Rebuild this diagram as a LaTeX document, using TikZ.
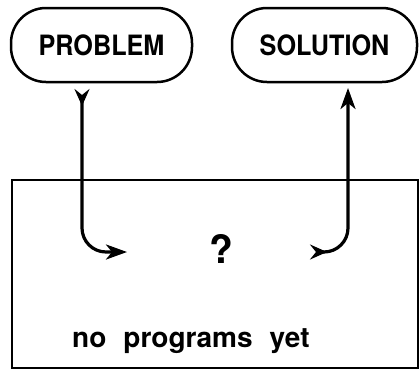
\documentclass[tikz,border=0pt]{standalone}
\usepackage{fontspec}
\setmainfont{TeX Gyre Heros}
\usetikzlibrary{arrows.meta}
\newcommand{\capword}[1]{\scalebox{0.9}[1]{#1}}
\begin{document}
\begin{tikzpicture}[x=1pt,y=-1pt,
  capsule/.style={draw,line width=2.5pt,rounded corners=35pt,
    minimum height=74pt,inner sep=0pt,font=\bfseries\fontsize{28}{32}\selectfont},
  frame/.style={draw,line width=2.3pt},
  flow/.style={line width=3.2pt,rounded corners=24pt},
  tipboth/.style={{Stealth[length=17pt,width=15pt,inset=6pt,reversed]}-{Stealth[length=21pt,width=15pt,inset=6pt]}},
  label/.style={font=\bfseries\fontsize{28}{32}\selectfont,inner sep=0pt}]
\useasboundingbox (0,0) rectangle (419,370);
% the two goals above the machine
\node[capsule,minimum width=181pt] (prob) at (101.5,45) {\capword{PROBLEM}};
\node[capsule,minimum width=185pt] (sol) at (324.5,45) {\capword{SOLUTION}};
% the machine, still empty
\draw[frame] (12,180) rectangle (418,368);
\node[label,font=\bfseries\fontsize{39}{42}\selectfont] (q) at (221,249) {?};
\node[label,anchor=base west] (txt) at (72,347) {no\hspace{17pt}programs\hspace{17pt}yet};
% flow in and flow out
\coordinate (pin) at (82,89);
\coordinate (pmid) at (127,252);
\coordinate (qmid) at (310,252);
\coordinate (qout) at (348,88);
\draw[flow,tipboth] (pin) |- (pmid);
\draw[flow,tipboth] (qmid) -| (qout);
\end{tikzpicture}
\end{document}
